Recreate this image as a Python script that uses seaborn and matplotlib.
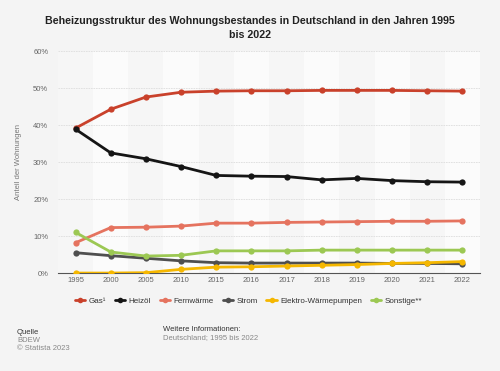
import matplotlib
matplotlib.use("Agg")
import matplotlib.pyplot as plt
import seaborn as sns
import pandas as pd

years = ["1995", "2000", "2005", "2010", "2015", "2016", "2017", "2018", "2019", "2020", "2021", "2022"]
gas = [39.2, 44.3, 47.6, 48.9, 49.2, 49.3, 49.3, 49.4, 49.4, 49.4, 49.3, 49.2]
heizoel = [38.9, 32.5, 30.9, 28.8, 26.4, 26.2, 26.1, 25.2, 25.6, 25.0, 24.7, 24.6]
fernwaerme = [8.2, 12.3, 12.4, 12.7, 13.5, 13.5, 13.7, 13.8, 13.9, 14.0, 14.0, 14.1]
strom = [5.5, 4.7, 4.0, 3.3, 2.8, 2.7, 2.7, 2.7, 2.7, 2.6, 2.6, 2.5]
waermepumpen = [0.0, 0.0, 0.1, 1.0, 1.6, 1.7, 1.9, 2.1, 2.3, 2.6, 2.8, 3.1]
sonstige = [11.0, 5.7, 4.6, 4.8, 6.0, 6.0, 6.0, 6.2, 6.2, 6.2, 6.2, 6.2]

series_names = ["Gas¹", "Heizöl", "Fernwärme", "Strom", "Elektro-Wärmepumpen", "Sonstige**"]
series_values = [gas, heizoel, fernwaerme, strom, waermepumpen, sonstige]
colors = ["#c9412b", "#151515", "#e5735f", "#4f4f4f", "#f5b700", "#9cc853"]

rows = []
for name, vals in zip(series_names, series_values):
    for i, (yr, v) in enumerate(zip(years, vals)):
        rows.append({"Jahr": yr, "idx": i, "Wert": v, "Serie": name})
df = pd.DataFrame(rows)

sns.set_theme(style="white")
plt.rcParams['font.family'] = ['Liberation Sans', 'DejaVu Sans']

fig = plt.figure(figsize=(5.0, 3.71), dpi=100, facecolor="#f4f4f4")
ax = fig.add_axes([0.116, 0.264, 0.844, 0.598])
ax.set_facecolor("#fbfbfb")

# alternating column bands
for i in range(len(years)):
    if i % 2 == 0:
        ax.axvspan(i - 0.5, i + 0.5, color="#f6f6f6", zorder=0, lw=0)

sns.lineplot(data=df, x="idx", y="Wert", hue="Serie", hue_order=series_names,
             palette=colors, marker="o", markersize=4.5, markeredgewidth=0,
             linewidth=2.0, ax=ax, legend=False, zorder=3)

ax.set_xlim(-0.5, len(years) - 0.5)
ax.set_ylim(0, 60)
ax.set_xticks(range(len(years)))
ax.set_xticklabels(years)
ax.set_yticks(range(0, 61, 10))
ax.set_yticklabels([f"{v}%" for v in range(0, 61, 10)])
ax.tick_params(axis="both", length=0, labelsize=5.5, labelcolor="#666666")
ax.tick_params(axis="x", pad=3)
ax.tick_params(axis="y", pad=7)
ax.grid(axis="y", color="#dddddd", linewidth=0.6, linestyle=(0, (2, 1)))
ax.set_axisbelow(True)
for s in ["top", "right", "left"]:
    ax.spines[s].set_visible(False)
ax.spines["bottom"].set_color("#555555")
ax.spines["bottom"].set_linewidth(0.8)
ax.set_xlabel("")
ax.set_ylabel("Anteil der Wohnungen", fontsize=5.5, color="#777777", labelpad=8)

fig.text(0.5, 0.958, "Beheizungsstruktur des Wohnungsbestandes in Deutschland in den Jahren 1995\nbis 2022",
         ha="center", va="top", fontsize=7.7, fontweight="bold", color="#222222", linespacing=1.6)

handles = [plt.Line2D([0], [0], color=c, marker="o", markersize=4, linewidth=2.0, markeredgewidth=0)
           for c in colors]
fig.legend(handles, series_names, loc="center", bbox_to_anchor=(0.497, 0.188), ncol=6,
           frameon=False, fontsize=5.8, handlelength=1.3, handletextpad=0.4, columnspacing=1.1,
           labelcolor="#333333")

fig.text(0.034, 0.105, "Quelle", fontsize=5.5, color="#333333", va="center")
fig.text(0.034, 0.083, "BDEW", fontsize=5.5, color="#888888", va="center")
fig.text(0.034, 0.061, "© Statista 2023", fontsize=5.5, color="#888888", va="center")
fig.text(0.326, 0.113, "Weitere Informationen:", fontsize=5.5, color="#333333", va="center")
fig.text(0.326, 0.091, "Deutschland; 1995 bis 2022", fontsize=5.5, color="#888888", va="center")

fig.savefig("out.png", dpi=100, facecolor=fig.get_facecolor())
